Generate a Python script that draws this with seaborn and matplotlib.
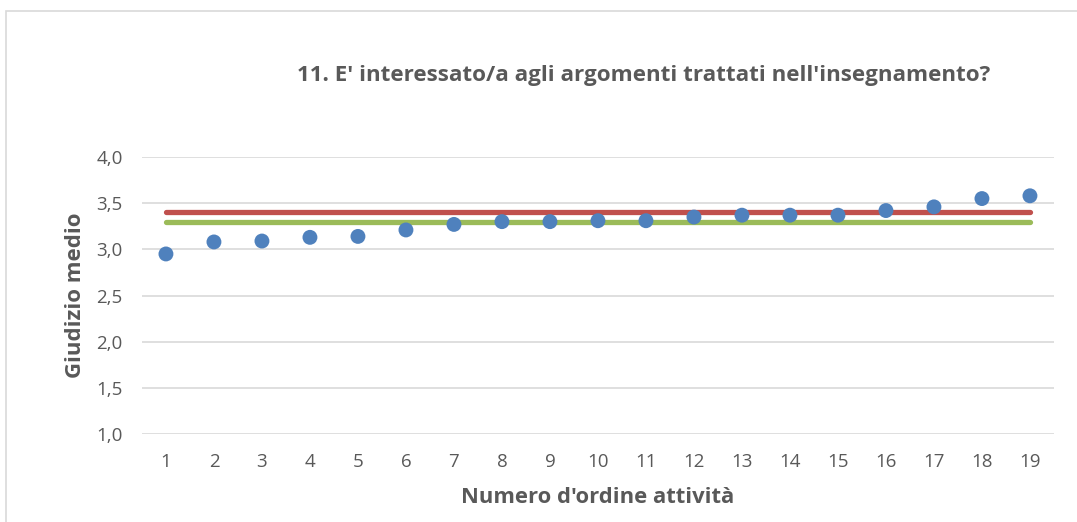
import matplotlib
matplotlib.use("Agg")
import matplotlib.pyplot as plt
import seaborn as sns
import pandas as pd
from matplotlib.patches import Rectangle

# data
attivita = list(range(1, 20))
giudizio = [2.95, 3.08, 3.09, 3.13, 3.14, 3.21, 3.27, 3.30, 3.30, 3.31,
            3.31, 3.35, 3.37, 3.37, 3.37, 3.42, 3.46, 3.55, 3.58]
media_red = [3.40] * 19
media_green = [3.30] * 19
y_ticks = [1.0, 1.5, 2.0, 2.5, 3.0, 3.5, 4.0]

df = pd.DataFrame({"attivita": attivita, "giudizio": giudizio,
                   "rosso": media_red, "verde": media_green})

sns.set_style("white")
plt.rcParams["font.family"] = ["Open Sans", "DejaVu Sans"]

fig = plt.figure(figsize=(10.77, 5.22), dpi=100)
ax = fig.add_axes([0.1318, 0.1686, 0.8468, 0.5306])

# chart border
fig.patches.append(Rectangle((6 / 1077, -0.1), 1.2, 1 - 11 / 522 + 0.1,
                             transform=fig.transFigure, fill=False,
                             edgecolor="#D9D9D9", linewidth=1.2))

sns.lineplot(data=df, x="attivita", y="verde", color="#9BBB59", linewidth=3.8,
             solid_capstyle="round", ax=ax, zorder=2)
sns.lineplot(data=df, x="attivita", y="rosso", color="#C0504D", linewidth=3.8,
             solid_capstyle="round", ax=ax, zorder=2)
sns.scatterplot(data=df, x="attivita", y="giudizio", color="#4F81BD", s=115,
                edgecolor="none", ax=ax, zorder=3)

ax.set_xlim(0.5, 19.5)
ax.set_ylim(1.0, 4.0)
ax.set_xticks(attivita)
ax.set_xticklabels([str(a) for a in attivita])
ax.set_yticks(y_ticks)
ax.set_yticklabels([f"{v:.1f}".replace(".", ",") for v in y_ticks])
ax.tick_params(axis="both", length=0, labelsize=13.5, labelcolor="#595959")
ax.tick_params(axis="x", pad=14)
ax.tick_params(axis="y", pad=14)
ax.yaxis.grid(True, color="#D9D9D9", linewidth=1.2)
ax.set_axisbelow(True)
for s in ax.spines.values():
    s.set_visible(False)

ax.set_xlabel("Numero d'ordine attività", fontsize=15.8, fontweight="bold",
              color="#595959", labelpad=11)
ax.set_ylabel("Giudizio medio", fontsize=16, fontweight="bold",
              color="#595959", labelpad=7)
fig.text(644 / 1077, 1 - 75 / 522,
         "11. E' interessato/a agli argomenti trattati nell'insegnamento?",
         ha="center", va="center", fontsize=16.1, fontweight="bold", color="#595959")

fig.savefig("out.png", dpi=100, facecolor="white")
